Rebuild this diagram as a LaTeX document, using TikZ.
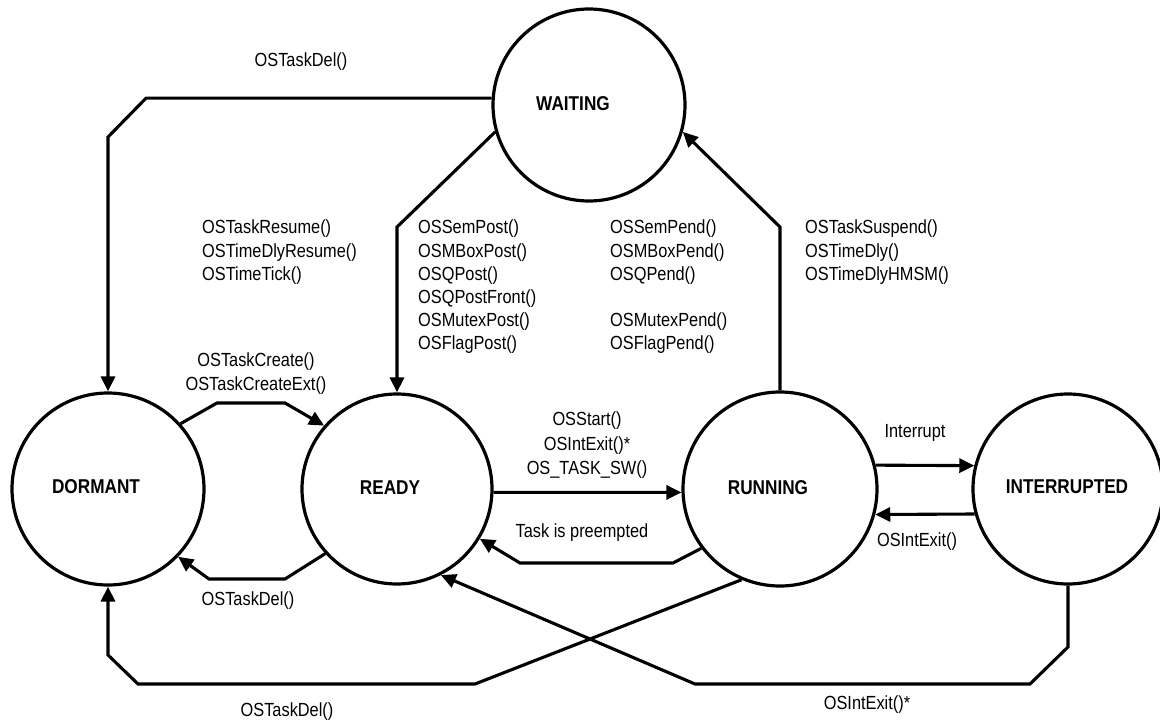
\documentclass[tikz,border=0pt]{standalone}
\usepackage{fontspec}
\setmainfont{Liberation Sans}[FakeStretch=0.86]
\usetikzlibrary{arrows.meta}
\begin{document}
\begin{tikzpicture}[x=1pt,y=-1pt,
  state/.style={circle, draw, line width=3.2pt, minimum size=192pt, inner sep=0pt},
  conn/.style={line width=3.1pt, -{Triangle[length=15pt,width=14pt]}, line join=miter},
  lbl/.style={inner sep=0pt, font=\fontsize{19}{23.2}\selectfont},
  slbl/.style={inner sep=0pt, font=\fontsize{20}{24}\selectfont\bfseries}]
\useasboundingbox (0,0) rectangle (1160,725);

% task states
\node[state] (W) at (589,105) {};
\node[state] (D) at (108,489) {};
\node[state, minimum size=190pt] (R) at (397,489) {};
\node[state, minimum size=194pt] (U) at (780,489) {};
\node[state, minimum size=190pt] (I) at (1068,489) {};

\node[slbl] (tW) at (573,104) {WAITING};
\node[slbl] (tD) at (96,487) {DORMANT};
\node[slbl] (tR) at (390,488) {READY};
\node[slbl] (tU) at (768,488) {RUNNING};
\node[slbl] (tI) at (1067,487) {INTERRUPTED};

% transitions
\draw[conn] (W.176) -- (146,98.2) -- (108,137) -- (D.north);
\draw[conn] (W.196) -- (397,227) -- (R.north);
\draw[conn] (U.north) -- (780,227) -- (W.-16);
\draw[conn] (D.42) -- (217,403) -- (285,403) -- (R.139);
\draw[conn] (R.222) -- (285,579) -- (209,579) -- (D.-44);
\draw[conn] (R.-2) -- (U.182);
\draw[conn] (U.217) -- (673,563) -- (520,563) -- (R.-31);
\draw[conn] (U.247) -- (475,684) -- (138,684) -- (108,655) -- (D.south);
\draw[conn] (I.south) -- (1068,647) -- (1030,684) -- (695,684) -- (R.-63);
\draw[conn] (U.14) -- (I.166);
\draw[conn] (I.195) -- (U.-15);

% transition labels
\node[lbl] (tdelTop) at (301,62) {OSTaskDel()};
\node[lbl, align=left, anchor=north west] (resume) at (202,220) {OSTaskResume()\\OSTimeDlyResume()\\OSTimeTick()};
\node[lbl, align=center, anchor=north] (create) at (256,353) {OSTaskCreate()\\OSTaskCreateExt()};
\node[lbl, align=left, anchor=north west] (post) at (418,220) {OSSemPost()\\OSMBoxPost()\\OSQPost()\\OSQPostFront()\\OSMutexPost()\\OSFlagPost()};
\node[lbl, align=left, anchor=north west] (pend) at (610,220) {OSSemPend()\\OSMBoxPend()\\OSQPend()\\[23.2pt]OSMutexPend()\\OSFlagPend()};
\node[lbl, align=left, anchor=north west] (suspend) at (805,220) {OSTaskSuspend()\\OSTimeDly()\\OSTimeDlyHMSM()};
\node[lbl, align=center, anchor=north, font=\fontsize{19}{24.5}\selectfont] (start) at (587,412) {OSStart()\\OSIntExit()*\\OS\_TASK\_SW()};
\node[lbl] (preempt) at (582,533) {Task is preempted};
\node[lbl] (intr) at (915,433) {Interrupt};
\node[lbl] (intexit) at (917,542) {OSIntExit()};
\node[lbl] (intexitB) at (867,705) {OSIntExit()*};
\node[lbl] (tdelBot) at (287,712) {OSTaskDel()};
\node[lbl] (tdelMid) at (248,601) {OSTaskDel()};
\end{tikzpicture}
\end{document}
